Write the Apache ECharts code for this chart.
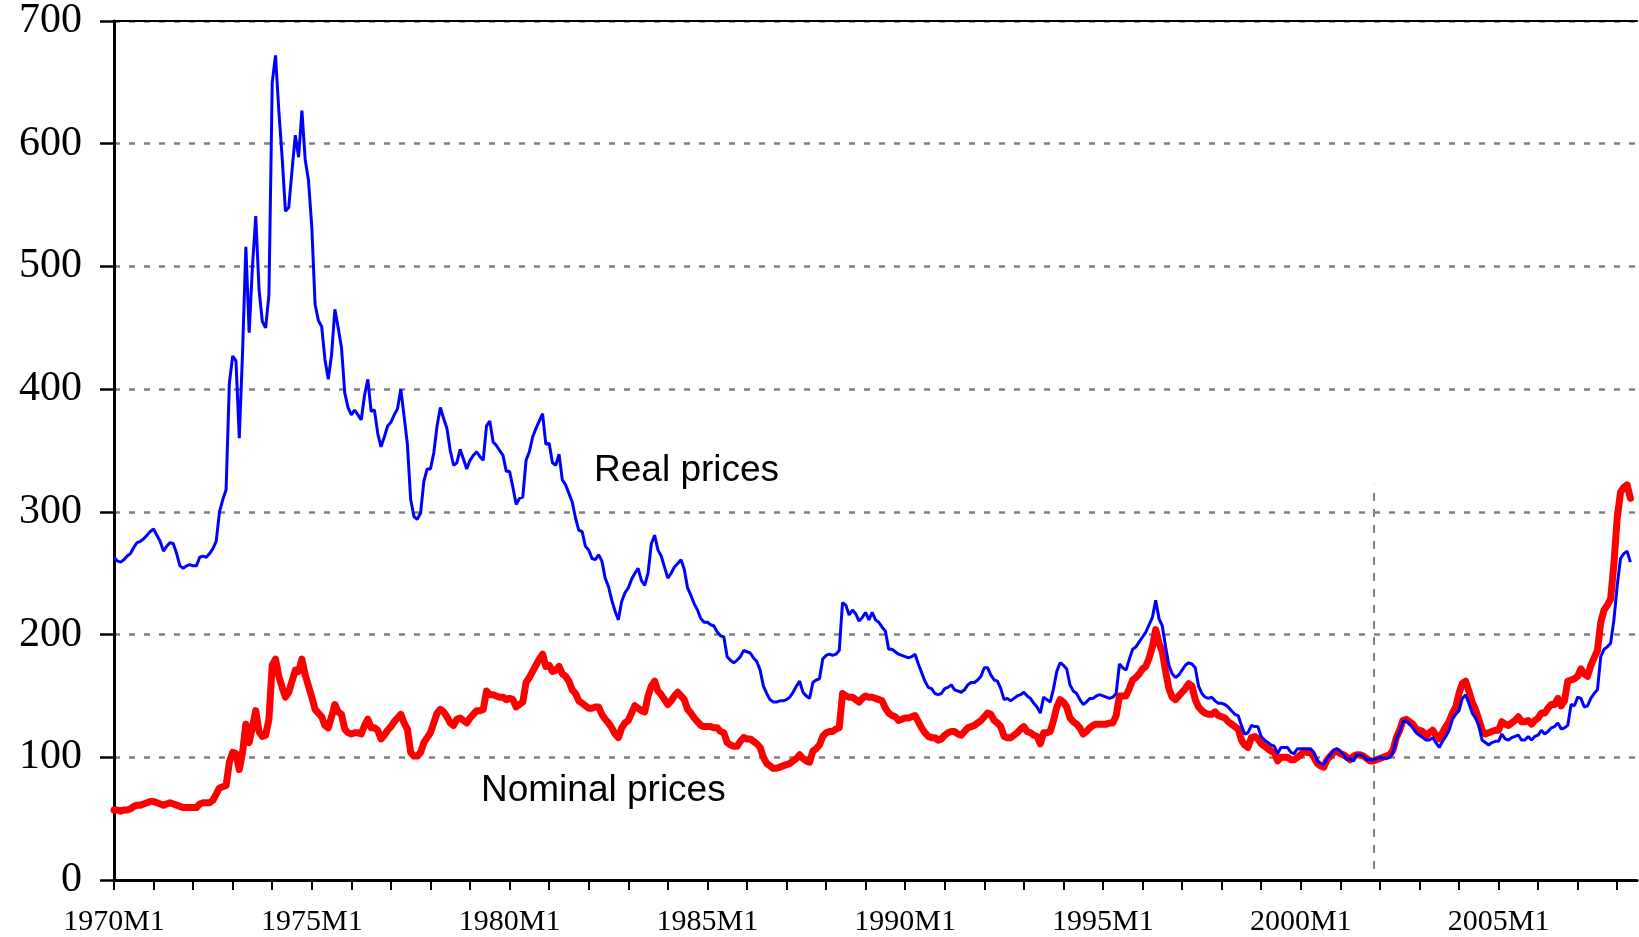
<!DOCTYPE html>
<html>
<head>
<meta charset="utf-8">
<script src="https://cdn.jsdelivr.net/npm/echarts@6/dist/echarts.min.js"></script>
<style>
  html, body { margin: 0; padding: 0; background: #ffffff; }
  #chart { width: 1639px; height: 937px; }
</style>
</head>
<body>
<div id="chart"></div>
<script>
// ---- Category axis: monthly, 1970M1 .. 2008M7 ----
const START_YEAR = 1970;
const END_YEAR = 2008;
const END_MONTH = 7;
const categories = [];
for (let y = START_YEAR; y <= END_YEAR; y++) {
  for (let m = 1; m <= 12; m++) {
    if (y === END_YEAR && m > END_MONTH) break;
    categories.push(y + 'M' + m);
  }
}

// ---- Y axis ticks ----
const yTicks = [0, 100, 200, 300, 400, 500, 600, 700];

// ---- Real prices (monthly values) ----
const real1970s = [
  263, 260, 259, 261, 264, 266, 271, 275, 276, 278, 281, 284,
  286, 281, 276, 268, 272, 275, 274, 266, 256, 254, 256, 257,
  256, 256, 263, 264, 263, 266, 270, 276, 300, 310, 318, 405,
  427, 423, 360, 430, 516, 446, 500, 541, 481, 455, 450, 477,
  650, 672, 627, 589, 545, 548, 578, 607, 589, 627, 587, 570,
  532, 469, 456, 451, 424, 408, 428, 465, 450, 434, 397, 385,
  379, 383, 379, 375, 395, 408, 382, 383, 364, 353, 361, 370,
  373, 379, 384, 400, 378, 355, 310, 296, 294, 299, 325, 335,
  335, 348, 370, 385, 376, 368, 350, 338, 340, 351, 343, 335,
  342, 346, 349, 345, 342, 370, 374, 357, 354, 350, 346, 333
];
const real1980s = [
  333, 320, 306, 311, 312, 342, 349, 361, 368, 374, 380, 355,
  356, 340, 338, 347, 326, 322, 315, 308, 295, 285, 284, 272,
  269, 262, 261, 265, 260, 246, 239, 228, 219, 212, 227, 234,
  238, 245, 250, 254, 244, 240, 250, 274, 281, 269, 264, 255,
  246, 250, 255, 258, 261, 253, 238, 232, 225, 220, 213, 210,
  210, 208, 207, 202, 199, 198, 182, 179, 177, 179, 182, 187,
  186, 185, 181, 178, 171, 158, 152, 147, 145, 145, 146, 146,
  147, 149, 153, 158, 162, 153, 150, 148, 161, 163, 164, 180,
  183, 184, 183, 184, 187, 226, 224, 216, 220, 217, 211, 214,
  218, 212, 218, 212, 210, 206, 203, 188, 188, 186, 184, 183
];
const real1990s = [
  182, 181, 182, 184, 176, 169, 162, 157, 156, 152, 151, 152,
  156, 157, 159, 155, 154, 153, 155, 159, 161, 161, 163, 166,
  173, 173, 167, 163, 162, 156, 147, 148, 146, 148, 150, 151,
  153, 150, 148, 144, 141, 136, 149, 147, 145, 156, 170, 177,
  175, 172, 159, 154, 152, 147, 143, 145, 148, 148, 150, 151,
  150, 149, 148, 149, 152, 176, 173, 171, 180, 188, 190, 194,
  198, 202, 208, 214, 228, 213, 207, 190, 175, 168, 165, 167,
  171, 175, 177, 176, 173, 158, 152, 149, 148, 149, 146, 144,
  144, 143, 141, 138, 135, 134, 126, 119, 120, 126, 125, 125,
  117, 114, 112, 110, 109, 103, 108, 108, 108, 104, 103, 107
];
const real2000s = [
  107, 107, 107, 107, 104, 97, 95, 94, 99, 102, 106, 107,
  105, 102, 98, 99, 97, 102, 102, 101, 98, 98, 98, 99,
  100, 99, 99, 100, 104, 115, 121, 129, 130, 127, 124, 120,
  118, 116, 114, 114, 116, 112, 108, 113, 117, 122, 131, 135,
  138, 148, 151, 144, 136, 132, 126, 114, 112, 110, 112, 113,
  113, 119, 115, 114, 116, 117, 118, 114, 114, 117, 114, 117,
  118, 122, 119, 121, 124, 125, 128, 123, 124, 126, 143, 142,
  149, 148, 141, 142, 148, 152, 155, 182, 188, 190, 193, 212,
  240, 262, 266, 268, 259
];

// ---- Nominal prices ----
const nominal1970s = [
  57, 57, 56, 57, 57, 58, 60, 61, 61, 62, 63, 64,
  64, 63, 62, 61, 62, 63, 62, 61, 60, 59, 59, 59,
  59, 59, 62, 63, 63, 63, 65, 70, 75, 76, 77, 96,
  104, 103, 90, 104, 127, 112, 125, 138, 121, 117, 118, 131,
  175, 180, 166, 157, 149, 153, 162, 171, 170, 180, 167, 158,
  149, 139, 136, 133, 126, 124, 133, 143, 137, 135, 123, 120,
  119, 120, 120, 119, 126, 131, 124, 124, 122, 115, 118, 122,
  125, 129, 132, 135, 128, 123, 104, 101, 101, 104, 112, 116,
  120, 128, 136, 139, 137, 133, 128, 126, 131, 132, 130, 128,
  132, 135, 138, 138, 139, 154, 151, 151, 150, 149, 149, 147
];
const nominal1980s = [
  148, 147, 141, 143, 145, 161, 165, 170, 175, 180, 184, 174,
  175, 170, 171, 174, 168, 166, 162, 155, 152, 146, 144, 142,
  140, 140, 141, 141, 135, 131, 128, 124, 119, 116, 124, 128,
  130, 136, 142, 140, 138, 137, 150, 158, 162, 154, 151, 147,
  143, 146, 150, 153, 150, 147, 139, 136, 132, 129, 126, 125,
  125, 125, 124, 124, 121, 120, 112, 110, 109, 109, 113, 116,
  115, 115, 113, 111, 108, 100, 95, 93, 91, 91, 92, 93,
  94, 95, 97, 99, 102, 99, 97, 96, 105, 107, 110, 117,
  120, 121, 121, 123, 124, 152, 150, 149, 149, 147, 145, 148,
  150, 149, 149, 148, 147, 146, 140, 136, 134, 133, 130, 131
];
const nominal1990s = [
  132, 132, 133, 134, 129, 124, 120, 117, 116, 116, 114, 115,
  118, 120, 121, 121, 119, 118, 121, 124, 125, 126, 128, 130,
  133, 136, 135, 130, 128, 125, 117, 116, 116, 118, 120, 123,
  125, 121, 120, 118, 117, 111, 120, 120, 121, 130, 141, 147,
  145, 141, 132, 129, 127, 124, 119, 121, 124, 126, 127, 127,
  127, 127, 128, 128, 134, 150, 150, 150, 156, 163, 165, 168,
  172, 174, 181, 190, 204, 193, 186, 170, 156, 149, 147, 150,
  153, 156, 160, 158, 147, 141, 138, 136, 135, 135, 137, 134,
  133, 132, 129, 127, 125, 123, 114, 110, 108, 116, 117, 115,
  111, 109, 107, 105, 104, 97, 100, 100, 100, 98, 98, 100
];
const nominal2000s = [
  102, 105, 104, 104, 100, 95, 93, 92, 98, 101, 104, 105,
  103, 102, 100, 98, 101, 102, 102, 101, 99, 97, 97, 98,
  99, 100, 101, 102, 106, 116, 122, 130, 131, 129, 127, 123,
  122, 121, 117, 120, 122, 118, 115, 120, 125, 129, 136, 141,
  152, 160, 162, 154, 145, 139, 131, 122, 119, 120, 121, 122,
  122, 129, 127, 126, 128, 130, 133, 129, 129, 130, 127, 130,
  132, 136, 136, 140, 143, 143, 148, 142, 146, 162, 163, 164,
  166, 172, 168, 166, 175, 181, 187, 210, 220, 224, 229, 258,
  295, 316, 320, 322, 311
];

// ---- Reference (vertical dashed) line ----
const refLineCategory = '2001M11';
const refLineFrom = 9;
const refLineTo = 322;

// ---- Annotation texts ----
const seriesNames = ['Real prices', 'Nominal prices'];

const realPrices = real1970s.concat(real1980s, real1990s, real2000s);
const nominalPrices = nominal1970s.concat(nominal1980s, nominal1990s, nominal2000s);

const chart = echarts.init(document.getElementById('chart'), null, { renderer: 'canvas' });

const serif = '"Liberation Serif", "Times New Roman", serif';
const sans = '"Liberation Sans", Arial, sans-serif';

chart.setOption({
  animation: false,
  backgroundColor: '#ffffff',
  grid: { left: 114, right: 2, top: 21, bottom: 56, containLabel: false },
  xAxis: [
    {
      type: 'category',
      data: categories,
      boundaryGap: false,
      position: 'bottom',
      axisLine: { show: true, onZero: false, lineStyle: { color: '#000', width: 3 } },
      axisTick: {
        show: true,
        interval: function (i) { return i % 12 === 0; },
        length: 10,
        lineStyle: { color: '#000', width: 2 }
      },
      axisLabel: {
        show: true,
        interval: function (i) { return i % 60 === 0; },
        fontFamily: serif,
        fontSize: 30,
        color: '#000',
        margin: 27,
        hideOverlap: false,
        showMinLabel: true
      },
      splitLine: { show: false }
    },
    {
      type: 'category',
      data: categories,
      boundaryGap: false,
      position: 'top',
      axisLine: { show: true, onZero: false, lineStyle: { color: '#000', width: 2 } },
      axisTick: { show: false },
      axisLabel: { show: false },
      splitLine: { show: false }
    }
  ],
  yAxis: {
    type: 'value',
    min: yTicks[0],
    max: yTicks[yTicks.length - 1],
    interval: 100,
    axisLine: { show: true, lineStyle: { color: '#000', width: 3 } },
    axisTick: { show: true, inside: false, length: 14, lineStyle: { color: '#000', width: 2.5 } },
    axisLabel: {
      fontFamily: serif,
      fontSize: 42,
      color: '#000',
      margin: 32
    },
    splitLine: { show: true, lineStyle: { color: '#808080', type: [6, 9], width: 2.5 } }
  },
  series: [
    {
      name: seriesNames[1],
      type: 'line',
      data: nominalPrices,
      showSymbol: false,
      symbol: 'none',
      lineStyle: { color: '#ff0000', width: 7, join: 'round', cap: 'round' },
      itemStyle: { color: '#ff0000' },
      z: 2,
      markLine: {
        silent: true,
        symbol: ['none', 'none'],
        label: { show: false },
        lineStyle: { color: '#808080', type: [8, 8], width: 2 },
        data: [[
          { coord: [refLineCategory, refLineFrom] },
          { coord: [refLineCategory, refLineTo] }
        ]]
      }
    },
    {
      name: seriesNames[0],
      type: 'line',
      data: realPrices,
      showSymbol: false,
      symbol: 'none',
      lineStyle: { color: '#0000ff', width: 3 },
      itemStyle: { color: '#0000ff' },
      z: 3
    }
  ],
  graphic: [
    {
      type: 'text',
      left: 594,
      top: 452,
      style: { text: seriesNames[0], font: '37px ' + sans, fill: '#000' },
      z: 10
    },
    {
      type: 'text',
      left: 481,
      top: 772,
      style: { text: seriesNames[1], font: '37px ' + sans, fill: '#000' },
      z: 10
    }
  ]
});
</script>
</body>
</html>
